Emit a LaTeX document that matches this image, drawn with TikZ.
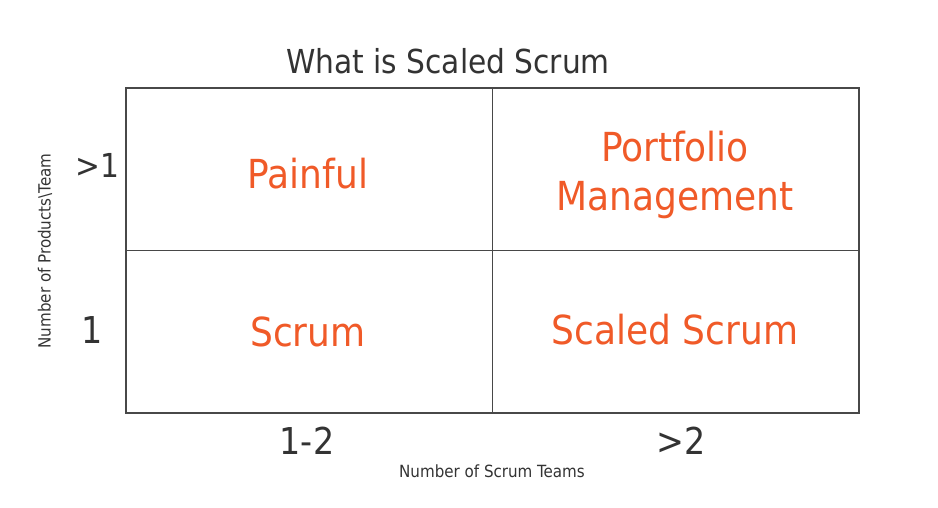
\documentclass[tikz,border=0pt]{standalone}
\usepackage{fontspec}
\setmainfont{DejaVu Sans Condensed}
\definecolor{hot}{RGB}{240,90,40}
\definecolor{ink}{RGB}{51,51,51}
\definecolor{grid}{RGB}{72,72,72}
\begin{document}
\begin{tikzpicture}[x=1pt,y=-1pt,
  every node/.style = {text=ink, inner sep=0pt},
  cell/.style = {draw=grid, line width=1.2pt,
    minimum width=366.5pt, minimum height=162.5pt},
  quad/.style = {text=hot, anchor=base, font=\fontsize{40}{48}\selectfont},
  tick/.style = {anchor=base, font=\fontsize{37}{44}\selectfont},
  axis/.style = {font=\fontsize{16.8}{20}\selectfont}]
  \useasboundingbox (0,0) rectangle (938,508);
  \node[cell] (tl) at (309.25,169.25) {};
  \node[cell] (tr) at (675.75,169.25) {};
  \node[cell] (bl) at (309.25,331.75) {};
  \node[cell] (br) at (675.75,331.75) {};
  \node[anchor=base, font=\fontsize{33}{40}\selectfont] (title) at (448,74) {What is Scaled Scrum};
  \node[quad] (pain) at (308,189) {Painful};
  \node[quad] (port) at (675,162) {Portfolio};
  \node[quad] (mgmt) at (675,211) {Management};
  \node[quad] (scrum) at (308,346) {Scrum};
  \node[quad] (scaled) at (675,344) {Scaled Scrum};
  \node[tick, font=\fontsize{33}{40}\selectfont] (many) at (97,178) {>1};
  \node[tick] (one) at (92,343) {1};
  \node[tick] (few) at (307,454) {1-2};
  \node[tick] (more) at (681,454) {>2};
  \node[axis, anchor=base] (teams) at (492,477) {Number of Scrum Teams};
  \node[axis, rotate=90] (prod) at (45,251) {Number of Products\textbackslash Team};
\end{tikzpicture}
\end{document}
